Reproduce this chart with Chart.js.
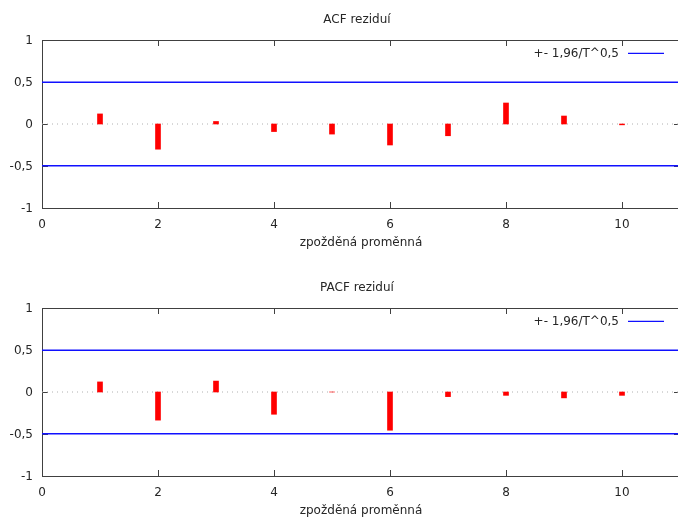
<!DOCTYPE html>
<html>
<head>
<meta charset="utf-8">
<script src="https://cdn.jsdelivr.net/npm/chart.js@4"></script>
<style>
  html, body { margin: 0; padding: 0; background: #fff; overflow: hidden; }
  .box { position: absolute; left: 0; width: 680px; height: 268px; }
  #b1 { top: 0; }
  #b2 { top: 268px; }
</style>
</head>
<body>
<div class="box" id="b1"><canvas id="c1" width="680" height="268"></canvas></div>
<div class="box" id="b2"><canvas id="c2" width="680" height="268"></canvas></div>
<script>
// ---- data ----
const lags = [1, 2, 3, 4, 5, 6, 7, 8, 9, 10];
const acfValues = [0.12, -0.30, 0.03, -0.09, -0.12, -0.25, -0.14, 0.25, 0.095, -0.01];
const pacfValues = [0.12, -0.335, 0.13, -0.265, 0.0, -0.455, -0.055, -0.04, -0.07, -0.04];
const confBand = 0.497;
const xTicks = [0, 2, 4, 6, 8, 10];
const yTicks = [-1, -0.5, 0, 0.5, 1];
const legendLabel = '+- 1,96/T^0,5';
const xTitle = 'zpožděná proměnná';
const titles = ['ACF reziduí', 'PACF reziduí'];

const FONT = 'DejaVu Sans';
const TEXT = '#262626';
const BLUE = '#1010ff';
Chart.defaults.font.family = FONT;
Chart.defaults.font.size = 12;
Chart.defaults.color = TEXT;

const framePlugin = {
  id: 'gnuframe',
  beforeDatasetsDraw(chart) {
    const { ctx, chartArea: { left, top, right, bottom }, scales: { x, y } } = chart;
    ctx.save();
    ctx.strokeStyle = '#404040';
    ctx.lineWidth = 1;
    ctx.beginPath();
    ctx.moveTo(left + 0.5, top + 0.5);
    ctx.lineTo(right - 0.5, top + 0.5);
    ctx.lineTo(right - 0.5, bottom + 0.5);
    ctx.lineTo(left + 0.5, bottom + 0.5);
    ctx.closePath();
    ctx.stroke();
    ctx.beginPath();
    xTicks.forEach(v => {
      const px = Math.round(x.getPixelForValue(v)) + 0.5;
      ctx.moveTo(px, bottom); ctx.lineTo(px, bottom - 6);
      ctx.moveTo(px, top); ctx.lineTo(px, top + 6);
    });
    yTicks.forEach(v => {
      const py = Math.round(y.getPixelForValue(v)) + 0.5;
      ctx.moveTo(left, py); ctx.lineTo(left + 6, py);
      ctx.moveTo(right, py); ctx.lineTo(right - 6, py);
    });
    ctx.stroke();
    ctx.restore();
  },
  afterDatasetsDraw(chart) {
    const { ctx, chartArea: { left, top, right } } = chart;
    ctx.save();
    // title (centred over plot area)
    ctx.fillStyle = TEXT;
    ctx.font = '12px "' + FONT + '"';
    ctx.textAlign = 'center';
    ctx.textBaseline = 'middle';
    ctx.fillText(chart.options.plugins.gnuframe.title, (left + right) / 2 - 4, 19.5);
    // legend
    const ly = top + 13.3;
    ctx.strokeStyle = BLUE;
    ctx.lineWidth = 1.3;
    ctx.beginPath();
    ctx.moveTo(right - 52, ly); ctx.lineTo(right - 16, ly);
    ctx.stroke();
    ctx.fillStyle = TEXT;
    ctx.textAlign = 'right';
    ctx.fillText(legendLabel, right - 61, ly + 0.5);
    ctx.restore();
  }
};

function makeChart(id, title, values) {
  const bars = lags.map((l, i) => ({ x: l, y: values[i] }));
  new Chart(document.getElementById(id), {
    type: 'bar',
    data: {
      datasets: [
        { type: 'bar', data: bars, backgroundColor: '#ff0000', barThickness: 5, order: 0 },
        { type: 'line', data: [{ x: 0, y: 0 }, { x: 11, y: 0 }], borderColor: '#b0b0b0', borderWidth: 1,
          borderDash: [1, 4], pointRadius: 0, order: 2 },
        { type: 'line', data: [{ x: 0, y: confBand }, { x: 11, y: confBand }], borderColor: BLUE,
          borderWidth: 1.3, pointRadius: 0, order: 1 },
        { type: 'line', data: [{ x: 0, y: -confBand }, { x: 11, y: -confBand }], borderColor: BLUE,
          borderWidth: 1.3, pointRadius: 0, order: 1 }
      ]
    },
    options: {
      responsive: false,
      animation: false,
      devicePixelRatio: 1,
      layout: { padding: { top: 40, left: 0, right: 0, bottom: 0 } },
      plugins: {
        legend: { display: false },
        tooltip: { enabled: false },
        title: { display: false },
        gnuframe: { title: title }
      },
      scales: {
        x: {
          type: 'linear', min: 0, max: 11, offset: false,
          afterBuildTicks: s => { s.ticks = xTicks.map(v => ({ value: v })); },
          afterFit: s => { s.height = 60; },
          grid: { display: false, drawTicks: false },
          border: { display: false },
          ticks: { padding: 10, color: TEXT, font: { size: 12 }, maxRotation: 0, autoSkip: false },
          title: { display: true, text: xTitle, color: TEXT, font: { size: 12 }, padding: { top: 0, bottom: 17.8 } }
        },
        y: {
          type: 'linear', min: -1, max: 1,
          afterBuildTicks: s => { s.ticks = yTicks.map(v => ({ value: v })); },
          afterFit: s => { s.width = 42; },
          grid: { display: false, drawTicks: false },
          border: { display: false },
          ticks: { padding: 9, labelOffset: 1, color: TEXT, font: { size: 12 },
            callback: v => String(v).replace('.', ',') }
        }
      }
    },
    plugins: [framePlugin]
  });
}

makeChart('c1', titles[0], acfValues);
makeChart('c2', titles[1], pacfValues);
</script>
</body>
</html>
